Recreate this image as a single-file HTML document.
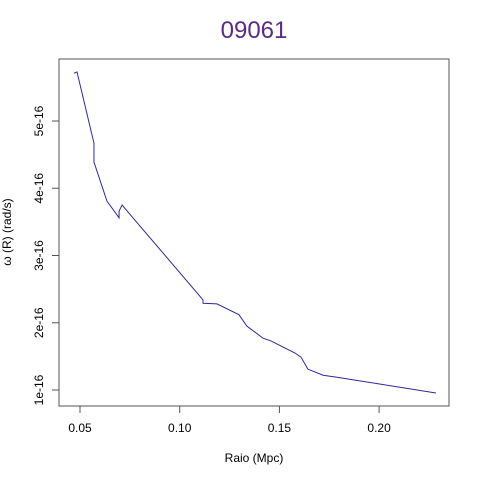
<!DOCTYPE html>
<html><head><meta charset="utf-8"><style>body{margin:0;background:#fff}svg{display:block;font-family:"Liberation Sans",sans-serif}</style></head>
<body>
<svg id="c" width="480" height="480">
<text x="254" y="38" font-size="24" fill="#5b2a86" text-anchor="middle">09061</text>
<rect x="59" y="59" width="390" height="347" fill="none" stroke="#555"/>
<text x="254" y="462" font-size="12" text-anchor="middle">Raio (Mpc)</text>
<text transform="translate(11,232) rotate(-90)" font-size="12" text-anchor="middle">ω (R) (rad/s)</text>
<g id="ax"></g>
<polyline id="ln" fill="none" stroke="#2a2a9a" stroke-width="1"/>
</svg>
<script>
const xs=[0.047,0.0485,0.057,0.057,0.0635,0.0696,0.0696,0.0711,0.1117,0.1117,0.1187,0.1297,0.1337,0.1418,0.1458,0.1578,0.1608,0.1643,0.1719,0.1789,0.2285];
const ys=[5.71,5.73,4.67,4.39,3.81,3.56,3.66,3.75,2.34,2.29,2.28,2.12,1.95,1.77,1.73,1.55,1.49,1.31,1.22,1.19,0.955];
const xTicks=[0.05,0.10,0.15,0.20];
const xTickLabels=["0.05","0.10","0.15","0.20"];
const yTicks=[1,2,3,4,5];
const yTickLabels=["1e-16","2e-16","3e-16","4e-16","5e-16"];
const X=v=>80+(v-0.05)*1994, Y=v=>390-(v-1)*67.25;
const NS="http://www.w3.org/2000/svg",ax=document.getElementById('ax');
function mk(t,a,txt){const e=document.createElementNS(NS,t);for(const k in a)e.setAttribute(k,a[k]);if(txt)e.textContent=txt;ax.appendChild(e);return e;}
xTicks.forEach((t,i)=>{
 const l=mk('line',{x1:X(t),x2:X(t),y1:406,y2:413,stroke:'#555'});
 
 
 const s=mk('text',{x:X(t),y:432,'font-size':12,'text-anchor':'middle'},xTickLabels[i]);
 
 
});
mk('line',{x1:X(0.05),x2:X(0.20),y1:406,y2:406,stroke:'#555'});
yTicks.forEach((t,i)=>{
 const l=mk('line',{x1:52,x2:59,y1:Y(t),y2:Y(t),stroke:'#555'});
 
 
 const s=mk('text',{transform:`translate(43,${Y(t)}) rotate(-90)`,'font-size':12,'text-anchor':'middle'},yTickLabels[i]);
 
 
});
document.getElementById('ln').setAttribute('points',xs.map((x,i)=>X(x)+','+Y(ys[i])).join(' '));
</script>
</body></html>
